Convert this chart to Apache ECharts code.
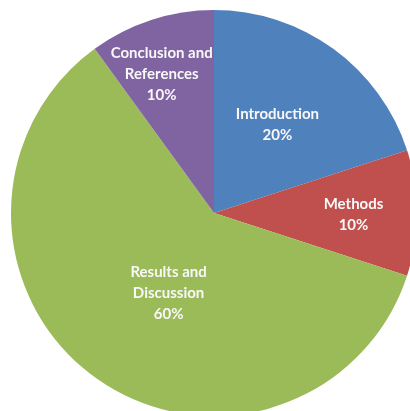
<!DOCTYPE html>
<html><head><meta charset="utf-8">
<script src="https://cdn.jsdelivr.net/npm/echarts@6/dist/echarts.min.js"></script>
<style>html,body{margin:0;padding:0;background:#fff}#c{width:410px;height:411px}</style>
</head><body><div id="c"></div>
<script>
const categories = ['Introduction', 'Methods', 'Results and\nDiscussion', 'Conclusion and\nReferences'];
const values = [20, 10, 60, 10];
const colors = ['#4F81BD', '#C0504D', '#9BBB59', '#8064A2'];
const labelOffsets = [[2, -4], [35, 2], [16, -4], [-20, -39]];

const chart = echarts.init(document.getElementById('c'));
chart.setOption({
  animation: false,
  series: [{
    type: 'pie',
    center: [214, 213],
    radius: 203,
    startAngle: 90,
    clockwise: true,
    label: {
      show: true,
      position: 'inside',
      formatter: p => p.name + '\n' + p.value + '%',
      color: '#f8f8f8',
      fontFamily: 'Lato, "Open Sans", sans-serif',
      fontWeight: 'bold',
      fontSize: 15,
      lineHeight: 21,
      align: 'center'
    },
    labelLine: { show: false },
    itemStyle: { borderWidth: 0 },
    data: categories.map((n, i) => ({
      name: n, value: values[i],
      itemStyle: { color: colors[i] },
      label: { offset: labelOffsets[i] }
    }))
  }]
});
</script></body></html>
